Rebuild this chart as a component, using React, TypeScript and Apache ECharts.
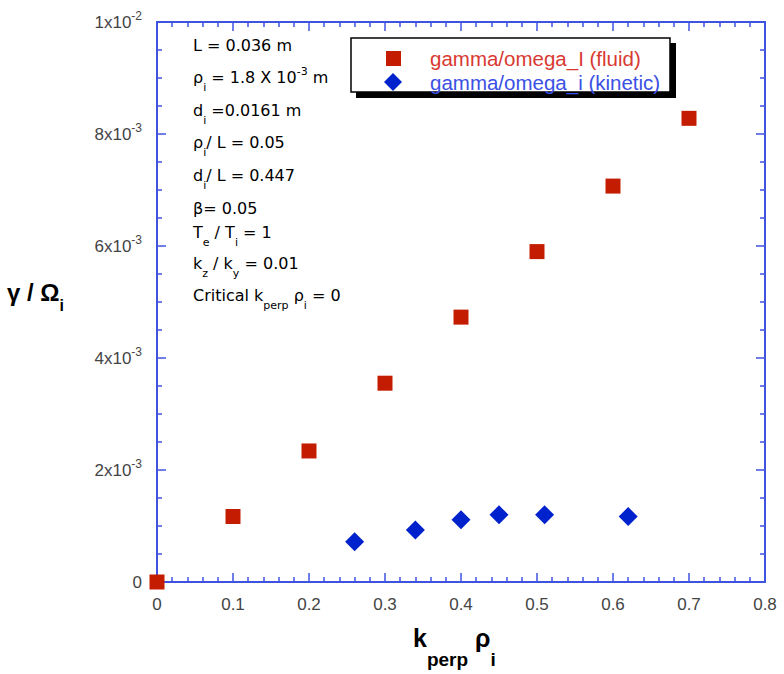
import React, { useEffect, useRef } from 'react';
import * as echarts from 'echarts';

// Growth rate vs k_perp rho_i, fluid and kinetic estimates
const fluidK = [0, 0.1, 0.2, 0.3, 0.4, 0.5, 0.6, 0.7];
const fluidRate = [0, 0.00117, 0.00234, 0.00355, 0.00473, 0.0059, 0.00707, 0.00828];
const kineticK = [0.26, 0.34, 0.4, 0.45, 0.51, 0.62];
const kineticRate = [0.00072, 0.00093, 0.00111, 0.0012, 0.0012, 0.00117];

const seriesNames = ['gamma/omega_I (fluid)', 'gamma/omega_i (kinetic)'];

// y tick labels written as mantissa x 10^exponent
const yTickMantissa = ['0', '2', '4', '6', '8', '1'];
const yTickExponent = ['', '-3', '-3', '-3', '-3', '-2'];

// plasma parameters listed in the upper-left corner
const parameterLines = [
  '{t|L = 0.036 m}',
  '{t|ρ}{s|i}{t| = 1.8 X 10}{p|-3}{t| m}',
  '{t|d}{s|i}{t| =0.0161 m}',
  '{t|ρ}{s|i}{t|/ L = 0.05}',
  '{t|d}{s|i}{t|/ L = 0.447}',
  '{t|β= 0.05}',
  '{t|T}{s|e}{t| / T}{s|i}{t| = 1}',
  '{t|k}{s|z}{t| / k}{s|y}{t| = 0.01}',
  '{t|Critical k}{s|perp}{t| ρ}{s|i}{t| = 0}',
];
const parameterLineY = [45, 77, 110, 142, 175, 208, 232, 263, 295];

const AXIS_BLUE = '#3f53e0';
const FLUID_RED = '#c41c00';
const KINETIC_BLUE = '#0022cc';
const LABEL_FONT = 'Liberation Sans, Arial, sans-serif';
const NOTE_FONT = 'DejaVu Sans, sans-serif';

const noteRich = {
  t: { fontFamily: NOTE_FONT, fontSize: 16, color: '#1a1a1a', verticalAlign: 'middle' },
  s: { fontFamily: NOTE_FONT, fontSize: 11, color: '#1a1a1a', padding: [20, 0, 0, 0], verticalAlign: 'middle' },
  p: { fontFamily: NOTE_FONT, fontSize: 11, color: '#1a1a1a', padding: [0, 0, 12, 0], verticalAlign: 'middle' },
};

function axisBase(splitNumber: number) {
  return {
    type: 'value',
    axisLine: { show: true, onZero: false, lineStyle: { color: AXIS_BLUE, width: 2 } },
    axisTick: { show: true, inside: true, length: 9, lineStyle: { color: AXIS_BLUE, width: 1.5 } },
    minorTick: { show: true, splitNumber, length: 5, lineStyle: { color: AXIS_BLUE, width: 1.5 } },
    splitLine: { show: false },
    minorSplitLine: { show: false },
  };
}

export default function App() {
  const ref = useRef<HTMLDivElement>(null);

  useEffect(() => {
    if (!ref.current) return;
    const chart = echarts.init(ref.current, undefined, { renderer: 'svg' });

    const xRange = { min: 0, max: 0.8, interval: 0.1 };
    const yRange = { min: 0, max: 0.01, interval: 0.002 };

    const option: any = {
      animation: false,
      backgroundColor: '#ffffff',
      grid: { left: 157, right: 19, top: 22, bottom: 92, containLabel: false },
      xAxis: [
        {
          ...axisBase(5),
          ...xRange,
          position: 'bottom',
          axisLabel: { margin: 14, fontSize: 17, color: '#444', fontFamily: LABEL_FONT },
        },
        {
          ...axisBase(5),
          ...xRange,
          position: 'top',
          axisLabel: { show: false },
        },
      ],
      yAxis: [
        {
          ...axisBase(4),
          ...yRange,
          position: 'left',
          axisLabel: {
            margin: 15,
            fontFamily: LABEL_FONT,
            formatter: (_v: number, i: number) =>
              yTickExponent[i]
                ? `{m|${yTickMantissa[i]}x10}{e|${yTickExponent[i]}}`
                : `{m|${yTickMantissa[i]}}`,
            rich: {
              m: { fontSize: 17, color: '#444', fontFamily: LABEL_FONT, verticalAlign: 'middle' },
              e: { fontSize: 12, color: '#444', fontFamily: LABEL_FONT, padding: [0, 0, 12, 0], verticalAlign: 'middle' },
            },
          },
        },
        {
          ...axisBase(4),
          ...yRange,
          position: 'right',
          axisLabel: { show: false },
        },
      ],
      legend: [
        {
          data: [{ name: seriesNames[0], textStyle: { color: '#d83a32' } }],
          left: 386,
          top: 48,
          padding: 0,
          orient: 'vertical',
          itemWidth: 15,
          itemHeight: 15,
          selectedMode: false,
          z: 5,
          textStyle: { fontSize: 20.5, lineHeight: 17, fontFamily: LABEL_FONT, padding: [0, 0, 3, 24] },
        },
        {
          data: [{ name: seriesNames[1], textStyle: { color: '#3a50e4' } }],
          left: 384,
          top: 69,
          padding: 0,
          orient: 'vertical',
          itemWidth: 18,
          itemHeight: 18,
          selectedMode: false,
          z: 5,
          textStyle: { fontSize: 20.5, lineHeight: 17, fontFamily: LABEL_FONT, padding: [0, 0, 9, 23] },
        },
      ],
      series: [
        {
          name: seriesNames[0],
          type: 'scatter',
          xAxisIndex: 0,
          yAxisIndex: 0,
          symbol: 'rect',
          symbolSize: 15,
          clip: false,
          itemStyle: { color: FLUID_RED, opacity: 1 },
          data: fluidK.map((k, i) => [k, fluidRate[i]]),
        },
        {
          name: seriesNames[1],
          type: 'scatter',
          xAxisIndex: 0,
          yAxisIndex: 0,
          symbol: 'diamond',
          symbolSize: 19,
          clip: false,
          itemStyle: { color: KINETIC_BLUE, opacity: 1 },
          data: kineticK.map((k, i) => [k, kineticRate[i]]),
        },
      ],
      graphic: [
        // legend frame with its drop shadow
        { type: 'rect', z: 1, shape: { x: 356, y: 43, width: 320, height: 55 }, style: { fill: '#000' } },
        {
          type: 'rect',
          z: 1,
          shape: { x: 351, y: 38, width: 319, height: 54 },
          style: { fill: '#fff', stroke: '#000', lineWidth: 1.5 },
        },
        // parameter notes
        ...parameterLines.map((line, i) => ({
          type: 'text',
          z: 3,
          x: 193,
          y: parameterLineY[i],
          style: { text: line, verticalAlign: 'middle', align: 'left', rich: noteRich },
        })),
        // x axis title
        {
          type: 'text',
          z: 3,
          x: 413,
          y: 638,
          style: {
            text: '{b|k}{s|perp}{b| ρ}{s|i}',
            verticalAlign: 'middle',
            align: 'left',
            rich: {
              b: { fontFamily: LABEL_FONT, fontWeight: 'bold', fontSize: 25, color: '#111', verticalAlign: 'middle' },
              s: {
                fontFamily: LABEL_FONT,
                fontWeight: 'bold',
                fontSize: 19,
                color: '#111',
                padding: [42, 0, 0, 0],
                verticalAlign: 'middle',
              },
            },
          },
        },
        // y axis title
        {
          type: 'text',
          z: 3,
          x: 64,
          y: 292,
          style: {
            text: '{b|γ / Ω}{s|i}',
            verticalAlign: 'middle',
            align: 'right',
            rich: {
              b: { fontFamily: LABEL_FONT, fontWeight: 'bold', fontSize: 24, color: '#111', verticalAlign: 'middle' },
              s: {
                fontFamily: LABEL_FONT,
                fontWeight: 'bold',
                fontSize: 16,
                color: '#111',
                padding: [26, 0, 0, 0],
                verticalAlign: 'middle',
              },
            },
          },
        },
      ],
    };

    chart.setOption(option);
    return () => chart.dispose();
  }, []);

  return (
    <div
      ref={ref}
      style={{ position: 'fixed', left: 0, top: 0, width: 784, height: 674, background: '#fff' }}
    />
  );
}
